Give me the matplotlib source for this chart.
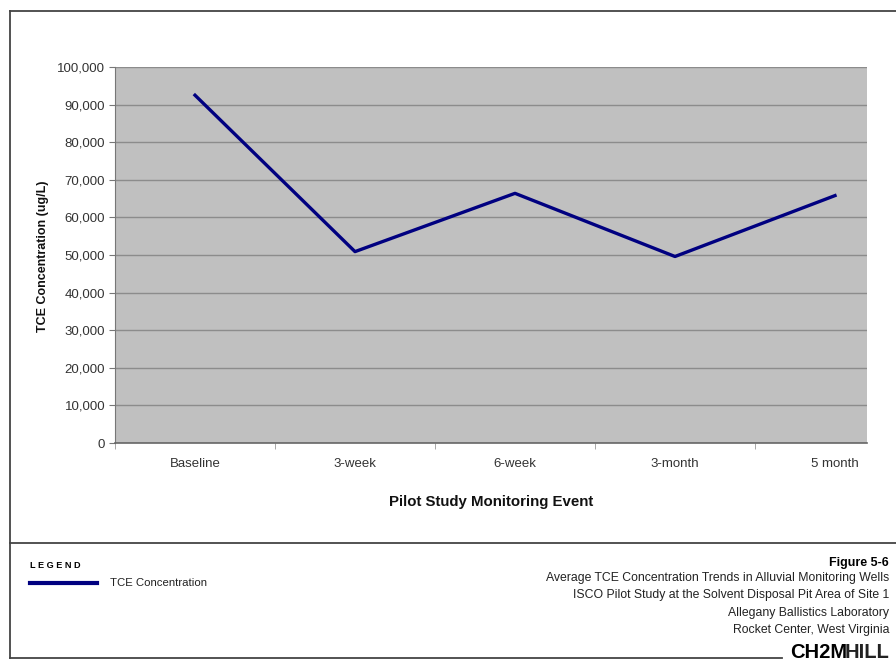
import matplotlib.pyplot as plt
import numpy as np
from matplotlib.lines import Line2D

plt.rcParams['font.family'] = ['Liberation Sans', 'DejaVu Sans']

# chart data
events = ['Baseline', '3-week', '6-week', '3-month', '5 month']
tce = [92500, 50900, 66400, 49600, 65800]
yticks = np.arange(0, 100001, 10000)

title_lines = ['Average TCE Concentration Trends in Alluvial Monitoring Wells',
               'ISCO Pilot Study at the Solvent Disposal Pit Area of Site 1',
               'Allegany Ballistics Laboratory',
               'Rocket Center, West Virginia']

W, H = 896, 660
fig = plt.figure(figsize=(W / 100, H / 100), dpi=100)

def fx(px):
    return px / W

def fy(py):
    return 1 - py / H

# plot area: x 115..867, y 67..443
ax = fig.add_axes([fx(115), fy(443), fx(867) - fx(115), fy(67) - fy(443)])
ax.set_facecolor('#c0c0c0')
x = np.arange(len(events))
ax.plot(x, tce, color='#000080', lw=2.4, zorder=3)

ax.set_xlim(-0.5, len(events) - 0.8)
ax.set_ylim(0, 100000)
ax.set_yticks(yticks)
ax.set_yticklabels([f'{v:,}' for v in yticks], fontsize=9.5, color='#333333')
ax.set_xticks(x)
ax.set_xticklabels(events, fontsize=9.5, color='#333333')
ax.set_xticks(np.arange(-0.5, len(events) - 0.5, 1), minor=True)
ax.tick_params(axis='x', which='major', length=0, pad=11)
ax.tick_params(axis='x', which='minor', length=4, color='#999999', direction='out')
ax.tick_params(axis='y', length=4, color='#777777', pad=3)
ax.yaxis.grid(True, color='#8c8c8c', lw=1.0)
ax.set_axisbelow(True)
for s in ['top', 'right']:
    ax.spines[s].set_visible(False)
ax.spines['left'].set_color('#777777')
ax.spines['bottom'].set_color('#666666')
ax.spines['bottom'].set_linewidth(1.2)

fig.text(fx(43), fy(256), 'TCE Concentration (ug/L)', rotation=90, fontsize=9,
         fontweight='bold', ha='center', va='center', color='#111111')
fig.text(fx(491), fy(502), 'Pilot Study Monitoring Event', fontsize=10.8,
         fontweight='bold', ha='center', va='center', color='#111111')

# outer frame and divider
frame = dict(color='#444444', lw=1.3)
fig.add_artist(Line2D([fx(10), 1], [fy(11), fy(11)], **frame))
fig.add_artist(Line2D([fx(10), fx(10)], [fy(11), fy(658)], **frame))
fig.add_artist(Line2D([fx(10), fx(782)], [fy(658), fy(658)], **frame))
fig.add_artist(Line2D([fx(10), 1], [fy(543), fy(543)], **frame))

# legend block
fig.text(fx(30), fy(565), 'L E G E N D', fontsize=6.6, fontweight='bold', va='center')
fig.add_artist(Line2D([fx(30), fx(97)], [fy(583), fy(583)], color='#000080', lw=3))
fig.text(fx(110), fy(583), 'TCE Concentration', fontsize=8.2, va='center', color='#222222')

# figure caption
fig.text(fx(889), fy(563), 'Figure 5-6', fontsize=9, fontweight='bold', ha='right', va='center')
for i, line in enumerate(title_lines):
    fig.text(fx(889), fy(578 + i * 17.3), line, fontsize=8.8, ha='right', va='center',
             color='#222222')
fig.text(fx(790), fy(652), 'CH2M', fontsize=14.5, fontweight='heavy', ha='left', va='center')
fig.text(fx(845), fy(652), 'HILL', fontsize=14.5, fontweight='bold', ha='left', va='center',
         color='#222222')

fig.savefig('out.png', dpi=100)
